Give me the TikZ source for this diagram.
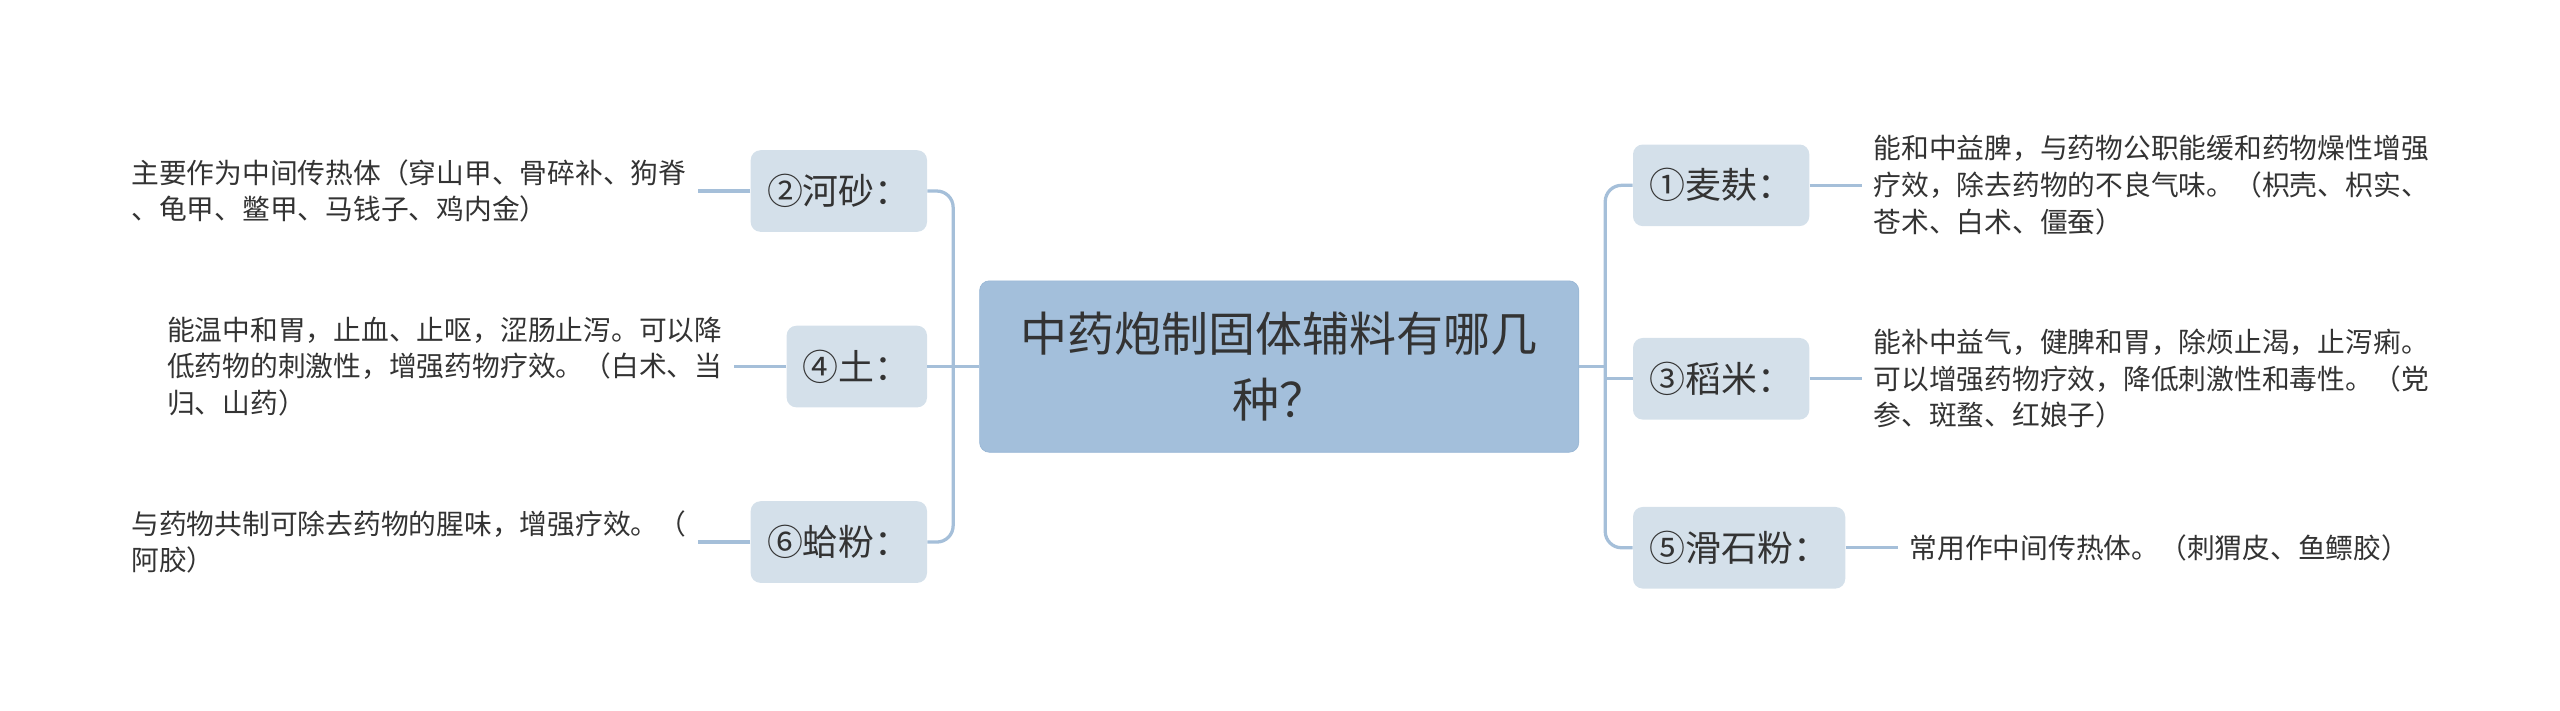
\documentclass[tikz,border=0pt]{standalone}
\usepackage{fontspec}
\setmainfont{Noto Sans CJK SC}
\usetikzlibrary{positioning}
\definecolor{rootblue}{HTML}{A3BFDB}
\definecolor{rootedge}{HTML}{98B6D4}
\definecolor{subfill}{HTML}{D4E0EA}
\definecolor{linkblue}{HTML}{A5BFD9}
\definecolor{txtgrey}{HTML}{333333}

\begin{document}
\begin{tikzpicture}
        [node distance=32pt,
         root/.style={draw=rootedge, fill=rootblue, rounded corners=6pt, minimum width=367pt, minimum height=105pt, align=center, text=txtgrey, font={\fontsize{28.8}{40}\selectfont}},
         sub/.style={fill=subfill, rounded corners=6pt, minimum height=50pt, inner xsep=10pt, text=txtgrey, font={\fontsize{22}{26}\selectfont}},
         desc/.style={align=left, inner xsep=7pt, text=txtgrey, font={\fontsize{17}{22.5}\selectfont}},
         link/.style={draw=linkblue, line width=2pt}]
        \useasboundingbox (0,0) rectangle (1568pt,-434.9pt);
        \node [root] (root) at (783.5pt,-224.5pt) {中药炮制固体辅料有哪几\\种？};
        \coordinate (lspine) at ([xshift=-16pt]root.west);
        \coordinate (rspine) at ([xshift=16pt]root.east);

        \node [sub, anchor=east] (hesha) at (568pt,-117pt) {②河砂：};
        \node [sub, anchor=east] (tu) at (568pt,-224.5pt) {④土：};
        \node [sub, anchor=east] (gefen) at (568pt,-332pt) {⑥蛤粉：};
        \node [sub, anchor=west] (maifu) at (1000pt,-113.5pt) {①麦麸：};
        \node [sub, anchor=west] (daomi) at (1000pt,-232pt) {③稻米：};
        \node [sub, anchor=west] (huashi) at (1000pt,-335.5pt) {⑤滑石粉：};

        \node [desc, left=of hesha] (heshatxt) {主要作为中间传热体（穿山甲、骨碎补、狗脊\\、龟甲、鳖甲、马钱子、鸡内金）};
        \node [desc, left=of tu] (tutxt) {能温中和胃，止血、止呕，涩肠止泻。可以降\\低药物的刺激性，增强药物疗效。（白术、当\\归、山药）};
        \node [desc, left=of gefen] (gefentxt) {与药物共制可除去药物的腥味，增强疗效。（\\阿胶）};
        \node [desc, right=of maifu] (maifutxt) {能和中益脾，与药物公职能缓和药物燥性增强\\疗效，除去药物的不良气味。（枳壳、枳实、\\苍术、白术、僵蚕）};
        \node [desc, right=of daomi] (daomitxt) {能补中益气，健脾和胃，除烦止渴，止泻痢。\\可以增强药物疗效，降低刺激性和毒性。（党\\参、斑蝥、红娘子）};
        \node [desc, right=of huashi] (huashitxt) {常用作中间传热体。（刺猬皮、鱼鳔胶）};

        \draw [link] (root.west) -- (tu.east);
        \draw [link, rounded corners=10pt] (hesha.east) -| (lspine) |- (gefen.east);
        \draw [link] (root.east) -- (rspine);
        \draw [link, rounded corners=10pt] (maifu.west) -| (rspine) |- (huashi.west);
        \draw [link] (daomi.west -| rspine) -- (daomi.west);

        \draw [link] (hesha) -- (heshatxt);
        \draw [link] (tu) -- (tutxt);
        \draw [link] (gefen) -- (gefentxt);
        \draw [link] (maifu) -- (maifutxt);
        \draw [link] (daomi) -- (daomitxt);
        \draw [link] (huashi) -- (huashitxt);
    \end{tikzpicture}
\end{document}
